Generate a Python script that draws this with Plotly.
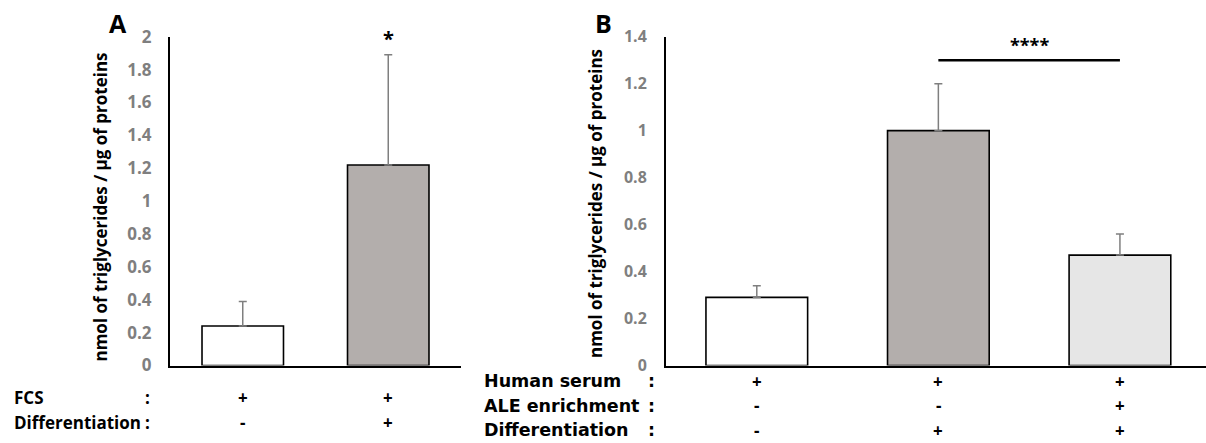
import plotly.graph_objects as go

W, H = 1206, 443

# ---------------- data ----------------
a_groups = ["A1", "A2"]
a_values = [0.24, 1.22]
a_err_up = [0.15, 0.67]
a_colors = ["#ffffff", "#b3aeac"]
a_row_names = ["FCS", "Differentiation"]
a_row_fcs = ["+", "+"]
a_row_diff = ["-", "+"]

b_groups = ["B1", "B2", "B3"]
b_values = [0.29, 1.00, 0.47]
b_err_up = [0.05, 0.20, 0.09]
b_colors = ["#ffffff", "#b3aeac", "#e6e6e6"]
b_row_names = ["Human serum", "ALE enrichment", "Differentiation"]
b_row_serum = ["+", "+", "+"]
b_row_ale = ["-", "-", "+"]
b_row_diff = ["-", "+", "+"]

a_yticks = [0, 0.2, 0.4, 0.6, 0.8, 1, 1.2, 1.4, 1.6, 1.8, 2]
a_yticklabels = ["0", "0.2", "0.4", "0.6", "0.8", "1", "1.2", "1.4", "1.6", "1.8", "2"]
b_yticks = [0, 0.2, 0.4, 0.6, 0.8, 1, 1.2, 1.4]
b_yticklabels = ["0", "0.2", "0.4", "0.6", "0.8", "1", "1.2", "1.4"]

y_title = "nmol of triglycerides / µg of proteins"

FONT = "Open Sans"
FONT_B_ROWS = "DejaVu Sans"
GREY_TXT = "#7f7f7f"

def px(x):
    return x / W

def py(y):
    return 1 - y / H

fig = go.Figure()

fig.add_trace(go.Bar(
    x=list(range(len(a_groups))), y=a_values,
    marker=dict(color=a_colors, line=dict(color="black", width=1.6)),
    width=0.56,
    error_y=dict(type="data", symmetric=False, array=a_err_up,
                 arrayminus=[0] * len(a_values), color="#7f7f7f",
                 thickness=1.5, width=4),
    xaxis="x", yaxis="y", showlegend=False, hoverinfo="y",
))

fig.add_trace(go.Bar(
    x=list(range(len(b_groups))), y=b_values,
    marker=dict(color=b_colors, line=dict(color="black", width=1.6)),
    width=0.56,
    error_y=dict(type="data", symmetric=False, array=b_err_up,
                 arrayminus=[0] * len(b_values), color="#7f7f7f",
                 thickness=1.5, width=4),
    xaxis="x2", yaxis="y2", showlegend=False, hoverinfo="y",
))

ydom = [py(365.5), py(36.7)]

axis_common = dict(showgrid=False, zeroline=False, showline=True,
                   linecolor="black", linewidth=2, automargin=False)

fig.update_layout(
    width=W, height=H,
    margin=dict(l=0, r=0, t=0, b=0, pad=0),
    paper_bgcolor="white", plot_bgcolor="white",
    font=dict(family=FONT, color="black"),
    showlegend=False,
    xaxis=dict(domain=[px(170), px(461)], range=[-0.5, 1.5],
               showticklabels=False, ticks="", anchor="y", **axis_common),
    yaxis=dict(domain=ydom, range=[0, 2], tickvals=a_yticks,
               ticktext=a_yticklabels, ticks="", ticklabelstandoff=13,
               tickfont=dict(family=FONT, size=17, color=GREY_TXT, weight="bold"),
               anchor="x", **axis_common),
    xaxis2=dict(domain=[px(666), 1.0], range=[-0.5, 2.474],
                showticklabels=False, ticks="", anchor="y2", **axis_common),
    yaxis2=dict(domain=ydom, range=[0, 1.4], tickvals=b_yticks,
                ticktext=b_yticklabels, ticks="", ticklabelstandoff=14,
                tickfont=dict(family=FONT, size=16, color=GREY_TXT, weight="bold"),
                anchor="x2", **axis_common),
)

ann = []

def text_at(text, x, y, size, xref="paper", yref="paper", xanchor="center",
            angle=0, color="black", family=FONT):
    ann.append(dict(text=text, x=x, y=y, xref=xref, yref=yref,
                    xanchor=xanchor, yanchor="middle", textangle=angle,
                    showarrow=False,
                    font=dict(family=family, size=size, weight="bold", color=color)))

# panel letters
text_at("A", px(117.5), py(23), 25)
text_at("B", px(603.5), py(22.5), 25)

# y titles
text_at(y_title, px(100), py(207.5), 17, angle=-90)
text_at(y_title, px(595), py(204), 17, angle=-90)

# significance
text_at("*", 1, 1.99, 20, xref="x", yref="y")
text_at("****", 1.5, 1.365, 18, xref="x2", yref="y2")

fig.add_shape(type="line", xref="x2", yref="y2", x0=1, x1=2, y0=1.30, y1=1.30,
              line=dict(color="black", width=2.5))

# condition rows, panel A
a_rows = [(a_row_names[0], a_row_fcs, 397), (a_row_names[1], a_row_diff, 422)]
for name, vals, yy in a_rows:
    text_at(name, px(12), py(yy), 17, xanchor="left")
    text_at(":", px(147), py(yy), 17)
    for i, v in enumerate(vals):
        text_at(v, i, py(yy), 17, xref="x")

# condition rows, panel B
b_rows = [(b_row_names[0], b_row_serum, 381), (b_row_names[1], b_row_ale, 405.5),
          (b_row_names[2], b_row_diff, 430)]
for name, vals, yy in b_rows:
    text_at(name, px(482), py(yy), 17.5, xanchor="left", family=FONT_B_ROWS)
    text_at(":", px(651), py(yy), 17.5, family=FONT_B_ROWS)
    for i, v in enumerate(vals):
        text_at(v, i, py(yy), 17, xref="x2")

fig.update_layout(annotations=ann)

fig.write_html(
    "out.html",
    config={"displayModeBar": False},
    post_script="document.body.style.margin='0px';document.body.style.overflow='hidden';",
)
